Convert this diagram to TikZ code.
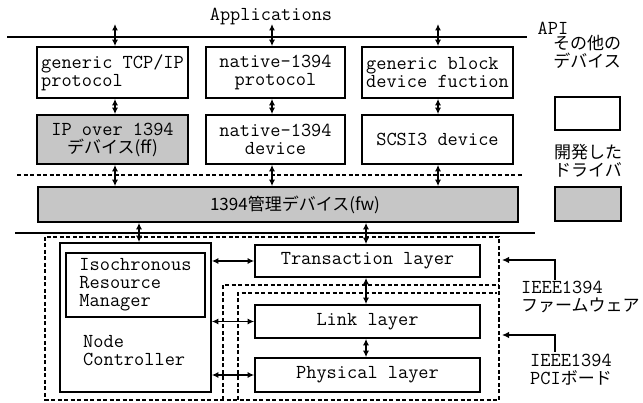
\documentclass[tikz,border=0pt]{standalone}
\usepackage{fontspec}
\newfontfamily\jpfam{Noto Sans CJK JP}
\usetikzlibrary{arrows.meta}
\newcommand\mymono{\ttfamily\fontsize{19.8}{18}\selectfont}
\newcommand\myjp{\jpfam\fontsize{17}{18}\selectfont}
\begin{document}
\begin{tikzpicture}[x=1pt,y=-1pt,
  box/.style={draw,line width=1.6pt,fill=white,inner sep=2pt,font=\mymono},
  shaded/.style={fill=gray!45},
  dbl/.style={{Latex[length=6.5pt,width=6pt]}-{Latex[length=6.5pt,width=6pt]},line width=1.5pt},
  sgl/.style={-{Latex[length=7pt,width=6.5pt]},line width=1.6pt},
  rulel/.style={line width=1.8pt},
  dsh/.style={line width=1.6pt,dash pattern=on 4pt off 2.5pt},
  lab/.style={font=\mymono,inner sep=0pt},
  jlab/.style={font=\myjp,inner sep=0pt}]
\useasboundingbox (0,0) rectangle (643,403);

% rules
\draw[rulel] (7,37) -- (527,37);
\draw[dsh] (17,175) -- (523,175);
\draw[rulel] (15,233) -- (535,233);

% dashed regions
\draw[dsh] (45,237) rectangle (499,400);
\draw[dsh] (223,400) -- (223,285) -- (499,285);
\draw[dsh] (238,400) -- (238,293) -- (497,293);

% top labels
\node[lab] (apps) at (271,17) {Applications};
\node[lab] (api) at (553,28) {API};

% row 1
\node[box,minimum width=151pt,minimum height=51pt,align=left] (tcp) at (112.5,72.5) {generic TCP/IP\\protocol};
\node[box,minimum width=139pt,minimum height=51pt,align=center] (nproto) at (275.5,72.5) {native-1394\\protocol};
\node[box,minimum width=151pt,minimum height=51pt,align=left] (gblock) at (437.5,72.5) {generic block\\device fuction};

% row 2
\node[box,shaded,minimum width=151pt,minimum height=49pt,align=center] (ipover) at (112.5,139.5) {IP over 1394\\{\myjp デバイス(ff)}};
\node[box,minimum width=139pt,minimum height=49pt,align=center] (ndev) at (275.5,139.5) {native-1394\\device};
\node[box,minimum width=151pt,minimum height=49pt,align=center] (scsi) at (437.5,139.5) {SCSI3 device};

% fw box
\node[box,shaded,minimum width=480pt,minimum height=35pt] (fw) at (278,204.5) {\hspace*{34pt}\myjp 1394管理デバイス(fw)};

% legend
\node[jlab,align=center] (other) at (587,52) {その他の\\デバイス};
\node[box,minimum width=65pt,minimum height=33pt] (lw) at (587.5,113.5) {};
\node[jlab,align=center] (dev) at (588,161) {開発した\\ドライバ};
\node[box,shaded,minimum width=66pt,minimum height=34pt] (lg) at (588,204) {};

% node controller
\node[box,minimum width=151pt,minimum height=149pt] (nc) at (135.5,317.5) {};
\node[box,minimum width=139pt,minimum height=64pt,align=left] (irm) at (135.5,285) {Isochronous\\Resource\\Manager};
\node[lab,align=left,anchor=west] (nctext) at (83,351) {Node\\Controller};

% layers
\node[box,minimum width=225pt,minimum height=32pt] (trans) at (367.5,261) {Transaction layer};
\node[box,minimum width=225pt,minimum height=33pt] (link) at (367.5,321.5) {Link layer};
\node[box,minimum width=225pt,minimum height=34pt] (phys) at (367.5,375) {Physical layer};

% right labels
\node[lab,align=left,anchor=west] (fwlab) at (521,297) {IEEE1394\\{\myjp ファームウェア}};
\node[lab,align=left,anchor=west] (pcilab) at (530,370) {IEEE1394\\PCI{\myjp ボード}};

% vertical arrows top section
\coordinate (a1) at (115,24);
\coordinate (a2) at (272,24);
\coordinate (a3) at (438,24);
\draw[dbl] (a1) -- (a1 |- tcp.north);
\draw[dbl] (a2) -- (a2 |- nproto.north);
\draw[dbl] (a3) -- (a3 |- gblock.north);
\draw[dbl] (a1 |- tcp.south) -- (a1 |- ipover.north);
\draw[dbl] (a2 |- nproto.south) -- (a2 |- ndev.north);
\draw[dbl] (a3 |- gblock.south) -- (a3 |- scsi.north);
\draw[dbl] (a1 |- ipover.south) -- (a1 |- fw.north);
\draw[dbl] (a2 |- ndev.south) -- (a2 |- fw.north);
\draw[dbl] (a3 |- scsi.south) -- (a3 |- fw.north);

% lower arrows
\coordinate (b1) at (139,0);
\coordinate (b2) at (366,0);
\draw[dbl] (b1 |- fw.south) -- (b1 |- nc.north);
\draw[dbl] (b2 |- fw.south) -- (b2 |- trans.north);
\draw[dbl] (b2 |- trans.south) -- (b2 |- link.north);
\draw[dbl] (b2 |- link.south) -- (b2 |- phys.north);
\draw[dbl] (nc.east |- trans.west) -- (trans.west);
\draw[dbl] (nc.east |- link.west) -- (link.west);
\draw[dbl] (nc.east |- phys.west) -- (phys.west);

% elbow arrows
\coordinate (fwsrc) at (555,280);
\coordinate (fwtip) at (502,260);
\coordinate (pcisrc) at (555,352);
\coordinate (pcitip) at (502,335);
\draw[sgl] (fwsrc) |- (fwtip);
\draw[sgl] (pcisrc) |- (pcitip);
\end{tikzpicture}
\end{document}
